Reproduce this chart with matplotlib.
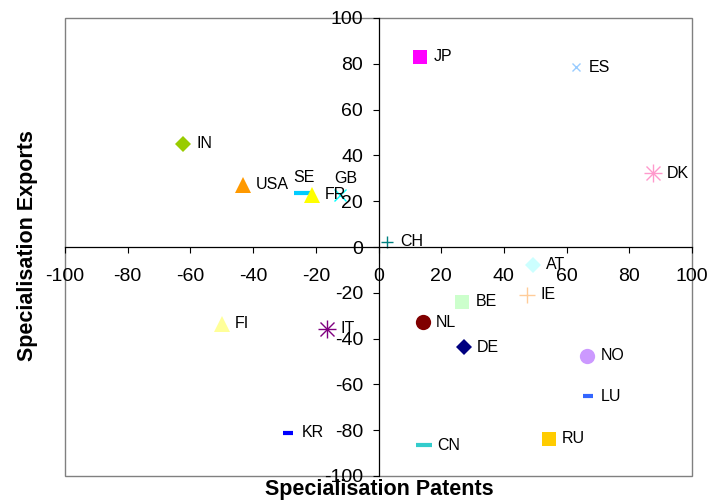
import matplotlib
matplotlib.use("Agg")
import matplotlib.pyplot as plt
from matplotlib.patches import Rectangle

plt.rcParams['font.family'] = ['Liberation Sans', 'DejaVu Sans']
plt.rcParams['axes.unicode_minus'] = False

# data
countries = ['IN', 'USA', 'SE', 'FR', 'GB', 'JP', 'ES', 'DK', 'CH', 'AT', 'IE',
             'BE', 'NL', 'DE', 'NO', 'LU', 'RU', 'CN', 'FI', 'IT', 'KR']
patents = [-62.3, -43.3, -24.3, -21.3, -12.3, 13.3, 63.0, 87.6, 2.8, 49.2, 47.5,
           26.7, 14.1, 27.2, 66.6, 66.7, 54.4, 14.5, -50.0, -16.4, -28.8]
exports = [45.0, 27.1, 23.6, 22.8, 22.8, 83.0, 78.6, 32.3, 2.2, -7.7, -20.8,
           -24.0, -32.8, -43.7, -47.5, -65.2, -83.7, -86.6, -33.5, -35.7, -81.2]

ticks = [-100, -80, -60, -40, -20, 0, 20, 40, 60, 80, 100]

# marker style per country: (marker, colour, size, edge width)
styles = {
    'IN': ('D', '#99CC00', 8, 0),
    'USA': ('^', '#FF9900', 11, 0),
    'SE': ('_', '#00CCFF', 12, 3),
    'FR': ('^', '#FFFF00', 11, 0),
    'GB': ('x', '#00FFFF', 9, 1),
    'JP': ('s', '#FF00FF', 10, 0),
    'ES': ('x', '#99CCFF', 6, 1),
    'DK': ('*', '#FF99CC', 0, 0),
    'CH': ('+', '#008080', 9, 1),
    'AT': ('D', '#CCFFFF', 8, 0),
    'IE': ('+', '#FFCC99', 11, 1),
    'BE': ('s', '#CCFFCC', 10, 0),
    'NL': ('o', '#800000', 11, 0),
    'DE': ('D', '#000080', 8, 0),
    'NO': ('o', '#CC99FF', 11, 0),
    'LU': ('_', '#3366FF', 7, 3),
    'RU': ('s', '#FFCC00', 10, 0),
    'CN': ('_', '#33CCCC', 11, 3),
    'FI': ('^', '#FFFF99', 11, 0),
    'IT': ('*', '#800080', 0, 0),
    'KR': ('_', '#0000FF', 7, 3),
}

# label offsets (points) - most sit to the right
offsets = {'SE': (1, 6, 'center', 'bottom'), 'GB': (4, 6, 'center', 'bottom')}

fig = plt.figure(figsize=(7.12, 5.03), dpi=100)
ax = fig.add_axes([65 / 712, 1 - 476 / 503, 627 / 712, 458 / 503])

for name, x, y in zip(countries, patents, exports):
    m, c, s, ew = styles[name]
    if m == '*':
        # excel style asterisk: plus + cross
        ax.plot(x, y, marker='+', color=c, markersize=13, markeredgewidth=1, linestyle='none')
        ax.plot(x, y, marker='x', color=c, markersize=10, markeredgewidth=1, linestyle='none')
    elif m in ('_', '+', 'x'):
        ax.plot(x, y, marker=m, color=c, markersize=s, markeredgewidth=ew, linestyle='none')
    else:
        ax.plot(x, y, marker=m, color=c, markersize=s, markeredgewidth=0, linestyle='none')
    if name in offsets:
        dx, dy, ha, va = offsets[name]
    else:
        dx, dy, ha, va = 9.5, 0, 'left', 'center'
    ax.annotate(name, (x, y), xytext=(dx, dy), textcoords='offset points',
                ha=ha, va=va, fontsize=11.5)

ax.set_xlim(-100, 100)
ax.set_ylim(-100, 100)
ax.set_xticks(ticks)
ax.set_yticks(ticks)
ax.tick_params(labelsize=14, length=4, width=0.8, color='black')
ax.tick_params(axis='x', pad=11)
ax.tick_params(axis='y', pad=7)

for side in ['left', 'bottom']:
    ax.spines[side].set_position(('data', 0))
    ax.spines[side].set_color('black')
    ax.spines[side].set_linewidth(0.9)
for side in ['right', 'top']:
    ax.spines[side].set_visible(False)

ax.add_patch(Rectangle((0, 0), 1, 1, transform=ax.transAxes, fill=False,
                       edgecolor='#808080', linewidth=1, clip_on=False, zorder=0))

fig.text(379 / 712, 1 - 489 / 503, 'Specialisation Patents', ha='center', va='center',
         fontsize=15.5, fontweight='bold')
fig.text(28 / 712, 1 - 246 / 503, 'Specialisation Exports', ha='center', va='center',
         rotation=90, fontsize=15.5, fontweight='bold')

fig.savefig('out.png', dpi=100)
